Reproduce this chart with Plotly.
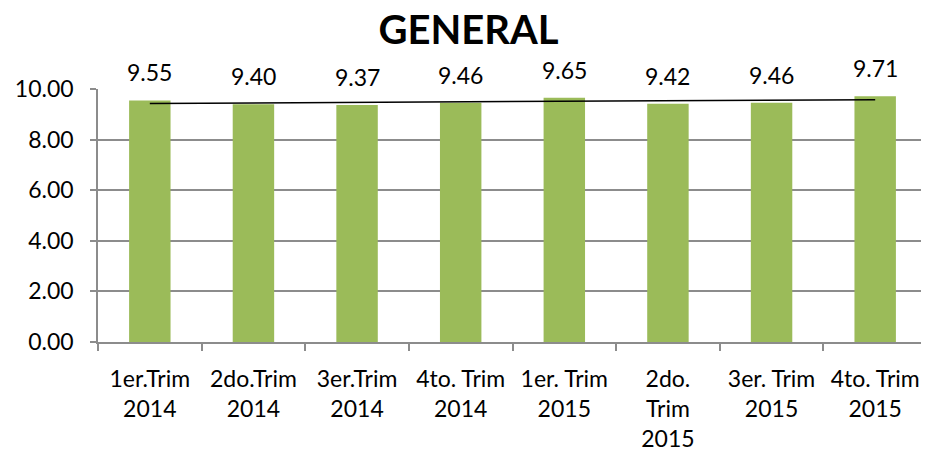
import numpy as np
import plotly.graph_objects as go

# data
periods = [
    "1er.Trim<br>2014",
    "2do.Trim<br>2014",
    "3er.Trim<br>2014",
    "4to. Trim<br>2014",
    "1er. Trim<br>2015",
    "2do.<br>Trim<br>2015",
    "3er. Trim<br>2015",
    "4to. Trim<br>2015",
]
scores = [9.55, 9.40, 9.37, 9.46, 9.65, 9.42, 9.46, 9.71]

# linear trend (Excel-style trendline)
idx = np.arange(len(scores))
slope, intercept = np.polyfit(idx, scores, 1)
trend = slope * idx + intercept

font_family = "Lato, 'Open Sans', sans-serif"

fig = go.Figure()

fig.add_trace(
    go.Bar(
        x=periods,
        y=scores,
        marker=dict(color="#9BBB59", line=dict(width=0)),
        showlegend=False,
        hoverinfo="skip",
    )
)

fig.add_trace(
    go.Scatter(
        x=periods,
        y=trend,
        mode="lines",
        line=dict(color="black", width=1.5),
        showlegend=False,
        hoverinfo="skip",
    )
)

for p, v in zip(periods, scores):
    fig.add_annotation(
        x=p,
        y=v,
        text=f"{v:.2f}",
        showarrow=False,
        yanchor="bottom",
        yshift=12,
        font=dict(size=23, color="black", family=font_family),
    )

# page body adds an 8px margin, so the figure is sized 8px smaller
fig.update_layout(
    width=921,
    height=446,
    paper_bgcolor="white",
    plot_bgcolor="white",
    margin=dict(l=90, r=2, t=81, b=109),
    bargap=0.6,
    font=dict(family=font_family, color="black", size=23),
    title=dict(
        text="<b>GENERAL</b>",
        x=0.5,
        xanchor="center",
        y=0.95,
        yanchor="middle",
        font=dict(size=40, color="black", family=font_family),
    ),
)

fig.update_xaxes(
    type="category",
    showline=True,
    linecolor="#8C8C8C",
    linewidth=1.5,
    ticks="outside",
    tickson="boundaries",
    ticklen=7,
    tickcolor="#8C8C8C",
    tickwidth=1.5,
    ticklabelstandoff=16,
    showgrid=False,
    tickfont=dict(size=23, color="black"),
    tickangle=0,
)

fig.update_yaxes(
    range=[0, 10],
    dtick=2,
    tickformat=".2f",
    showline=True,
    linecolor="#8C8C8C",
    linewidth=1.5,
    ticks="outside",
    ticklen=6,
    tickcolor="#8C8C8C",
    tickwidth=1.5,
    ticklabelstandoff=12,
    showgrid=True,
    gridcolor="#8C8C8C",
    gridwidth=1.5,
    zeroline=False,
    tickfont=dict(size=23, color="black"),
)

fig.write_html("out.html")
